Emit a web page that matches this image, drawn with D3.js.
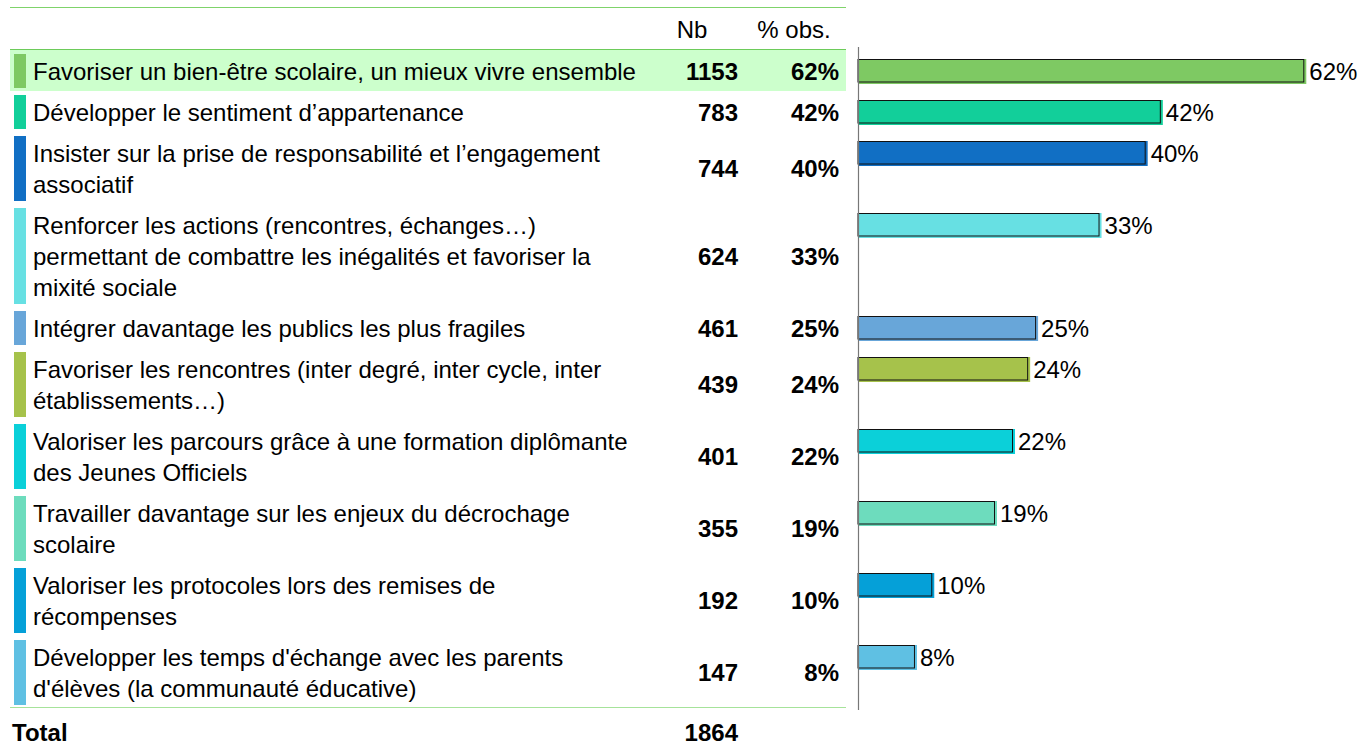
<!DOCTYPE html>
<html>
<head>
<meta charset="utf-8">
<script src="https://cdn.jsdelivr.net/npm/d3@7"></script>
<style>
  body { margin: 0; background: #fff; }
  text { font-family: "Liberation Sans", Arial, sans-serif; }
</style>
</head>
<body>
<svg id="chart"></svg>
<script>
// Categories (split in lines as in the original table)
const labels = [
    ["Favoriser un bien-être scolaire, un mieux vivre ensemble"],
    ["Développer le sentiment d’appartenance"],
    ["Insister sur la prise de responsabilité et l’engagement", "associatif"],
    ["Renforcer les actions (rencontres, échanges…)", "permettant de combattre les inégalités et favoriser la", "mixité sociale"],
    ["Intégrer davantage les publics les plus fragiles"],
    ["Favoriser les rencontres (inter degré, inter cycle, inter", "établissements…)"],
    ["Valoriser les parcours grâce à une formation diplômante", "des Jeunes Officiels"],
    ["Travailler davantage sur les enjeux du décrochage", "scolaire"],
    ["Valoriser les protocoles lors des remises de", "récompenses"],
    ["Développer les temps d'échange avec les parents", "d'élèves (la communauté éducative)"]
];
const counts = [1153, 783, 744, 624, 461, 439, 401, 355, 192, 147];
const pcts = [61.9, 42.0, 39.9, 33.5, 24.7, 23.6, 21.5, 19.0, 10.3, 7.9];
const pctLabels = ["62%", "42%", "40%", "33%", "25%", "24%", "22%", "19%", "10%", "8%"];
const total = 1864;
const colors = ["#7ec963", "#12cf9a", "#116fc4", "#67e0e3", "#68a6d9",
                "#a6c24b", "#0bd0d9", "#6ddcbd", "#05a0d8", "#5fc0e3"];

const width = 1361, height = 745;
const fs = 24;
const svg = d3.select("#chart").attr("width", width).attr("height", height);

// row layout: height depends on number of text lines
const lineH = 31, rowPad = 10, firstTop = 54;
let rows = [], rowY = firstTop;
labels.forEach((l, i) => {
    const h = rowPad + lineH * l.length;
    rows.push({lines: l, count: counts[i], pct: pcts[i], lab: pctLabels[i],
               color: colors[i], top: rowY, h: h});
    rowY += h;
});

const x = d3.scaleLinear().domain([0, 100]).range([858, 1579]);

// header lines
svg.append("line").attr("x1", 10).attr("x2", 846).attr("y1", 7.5).attr("y2", 7.5)
    .attr("stroke", "#7fd36a").attr("stroke-width", 1);
svg.append("line").attr("x1", 10).attr("x2", 846).attr("y1", 49.5).attr("y2", 49.5)
    .attr("stroke", "#6dcb5a").attr("stroke-width", 1);

// highlighted first row
svg.append("rect").attr("x", 10).attr("y", 50).attr("width", 836).attr("height", 41)
    .attr("fill", "#ccffcc");

svg.append("text").attr("x", 692).attr("y", 38).attr("text-anchor", "middle")
    .attr("font-size", fs).text("Nb");
svg.append("text").attr("x", 794).attr("y", 38).attr("text-anchor", "middle")
    .attr("font-size", fs).text("% obs.");

const g = svg.selectAll("g.row").data(rows).enter().append("g").attr("class", "row");

g.append("rect")
    .attr("x", 14).attr("y", d => d.top)
    .attr("width", 12).attr("height", d => d.h - 7)
    .attr("fill", d => d.color);

g.each(function(d) {
    const t = d3.select(this).append("text").attr("font-size", fs).attr("fill", "#000");
    d.lines.forEach((ln, j) => {
        t.append("tspan").attr("x", 33).attr("y", d.top + 26 + j * lineH).text(ln);
    });
});

g.append("text")
    .attr("x", 738).attr("y", d => d.top + (d.h - 7) / 2 + 8.5)
    .attr("text-anchor", "end").attr("font-size", fs).attr("font-weight", "bold")
    .text(d => d.count);
g.append("text")
    .attr("x", 839).attr("y", d => d.top + (d.h - 7) / 2 + 8.5)
    .attr("text-anchor", "end").attr("font-size", fs).attr("font-weight", "bold")
    .text(d => d.lab);

// bars: colored shadow + framed bar
g.append("rect")
    .attr("x", x(0)).attr("y", d => d.top + 5)
    .attr("width", d => x(d.pct) - x(0) + 2).attr("height", 25)
    .attr("fill", d => d.color);
g.append("rect")
    .attr("x", x(0)).attr("y", d => d.top + 5.5)
    .attr("width", d => x(d.pct) - x(0) - 0.5).attr("height", 22.5)
    .attr("fill", d => d.color).attr("stroke", "#111").attr("stroke-width", 1);
g.append("text")
    .attr("x", d => x(d.pct) + 5).attr("y", d => d.top + 26)
    .attr("font-size", fs).text(d => d.lab);

// vertical axis line
svg.append("line").attr("x1", 858.5).attr("x2", 858.5).attr("y1", 47).attr("y2", 710)
    .attr("stroke", "#777").attr("stroke-width", 1.2);

// bottom line and total
svg.append("line").attr("x1", 10).attr("x2", 846).attr("y1", rowY - 4.5).attr("y2", rowY - 4.5)
    .attr("stroke", "#a6e39a").attr("stroke-width", 1.2);
svg.append("text").attr("x", 12).attr("y", 741).attr("font-size", fs)
    .attr("font-weight", "bold").text("Total");
svg.append("text").attr("x", 738).attr("y", 741).attr("text-anchor", "end").attr("font-size", fs)
    .attr("font-weight", "bold").text(total);
</script>
</body>
</html>
